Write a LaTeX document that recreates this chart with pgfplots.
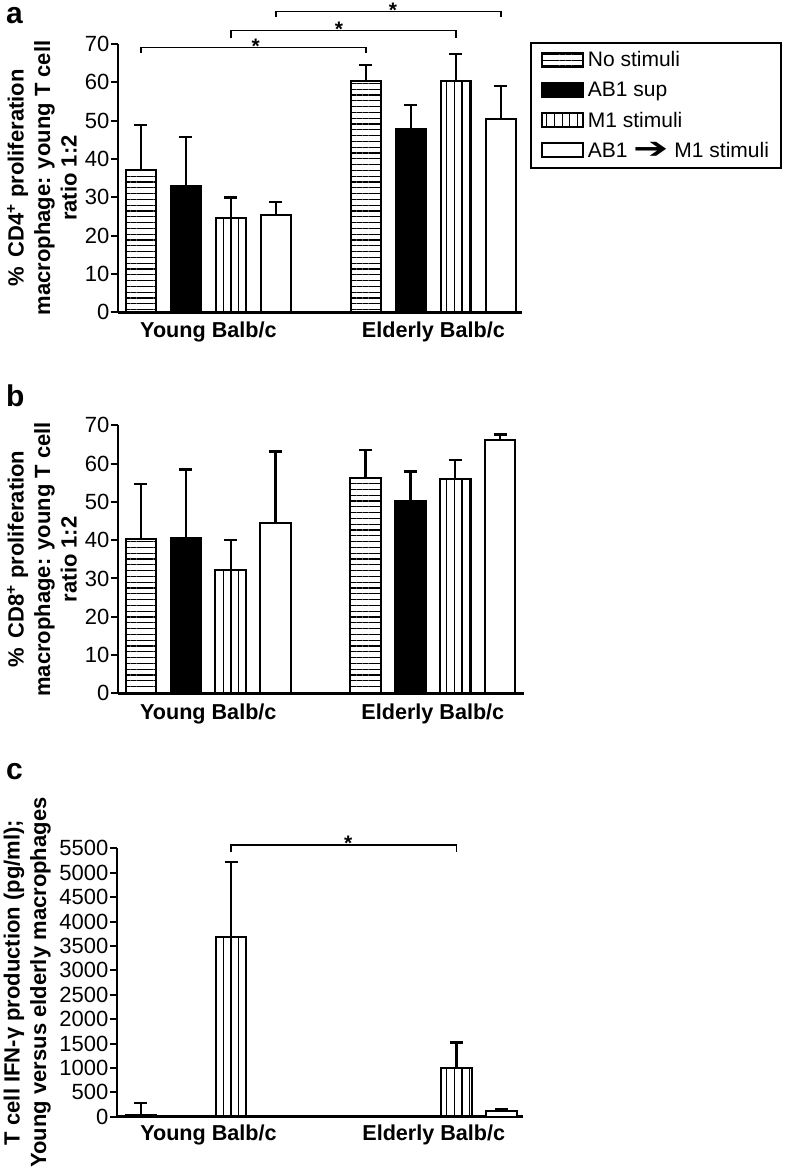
\documentclass[border=0pt]{standalone}
\usepackage{fontspec}
\setmainfont{Liberation Sans}
\newfontfamily\dejavu{DejaVu Sans}
\usepackage{graphicx}
\usepackage{pgfplots}
\pgfplotsset{compat=1.18}
\usetikzlibrary{patterns.meta}
\newcommand\ls{\rule[-5pt]{0pt}{20pt}}
\tikzset{
  hpat/.style={pattern={Lines[angle=0,distance=5.8pt,line width=1.2pt]},pattern color=black},
  vpat/.style={pattern={Lines[angle=90,distance=7.7pt,line width=1.2pt]},pattern color=black},
}
\pgfplotsset{
  nbars/.style={ybar, bar shift=0pt, bar width=0.68, draw=black, line width=2pt},
  bars/.style={nbars, error bars/y dir=plus, error bars/y explicit},
  panel/.style={
    scale only axis, anchor=south west, clip=false,
    axis x line*=bottom, axis y line*=left,
    axis line style={line width=2.5pt,-},
    xmin=-0.51, xmax=8.47, ymin=0,
    xtick={1.5,6.5}, xticklabels={Young Balb/c,Elderly Balb/c},
    xtick style={draw=none},
    tick align=outside, major tick length=7pt,
    ytick style={line width=2pt,black},
    xticklabel style={font=\fontsize{21.6}{24}\selectfont\bfseries, inner sep=0pt, anchor=north},
    yticklabel style={font=\fontsize{22}{26}\selectfont, inner sep=1.5pt},
    /pgf/number format/assume math mode=true,
    /pgf/number format/1000 sep={},
    ylabel style={anchor=south, inner sep=0pt, align=center, font=\fontsize{22}{26.5}\selectfont\bfseries},
    error bars/error bar style={line width=2.4pt, black, solid},
    error bars/error mark options={rotate=90, line width=2.4pt, mark size=6.5pt, black, solid},
  },
}
\begin{document}
\begin{tikzpicture}
\useasboundingbox (0pt,0pt) rectangle (787pt,1168pt);
% ---------------- panel a
\begin{axis}[panel, at={(118pt,855.7pt)}, width=404pt, height=268.5pt,
  ymax=70, ytick={0,10,...,70},
  xticklabel style={yshift=-2pt},
  ylabel style={at={(axis description cs:-0.1015,0.5)}},
  ylabel={\% \,CD4\textsuperscript{+} proliferation\\macrophage: young T cell\\ratio 1:2},
  legend image code/.code={\draw[#1] (0pt,-7pt) rectangle (41pt,7pt);},
  legend cell align=left,
  legend style={at={(axis description cs:1.0198,1.0075)}, anchor=north west, draw=black, line width=1.8pt,
    font=\fontsize{21}{25}\selectfont, inner xsep=10pt, inner ysep=7pt, row sep=9.5pt,
    /tikz/every odd column/.append style={column sep=2pt}},
]
\addlegendimage{draw=black, line width=2pt, hpat}
\addlegendentry{\ls No stimuli}
\addlegendimage{draw=black, line width=2pt, fill=black}
\addlegendentry{\ls AB1 sup}
\addlegendimage{draw=black, line width=2pt, vpat}
\addlegendentry{\ls M1 stimuli}
\addlegendimage{draw=black, line width=2pt, fill=white}
\addlegendentry{\ls AB1 \raisebox{-1.5pt}{\dejavu\scalebox{2.0}[1.4]{➔}} M1 stimuli}
\addplot[bars, hpat, forget plot] coordinates {(0,37.2) +- (0,11.6) (5,60.2) +- (0,4.3)};
\addplot[bars, fill=black, forget plot] coordinates {(1,32.9) +- (0,12.8) (6,47.9) +- (0,6.2)};
\addplot[bars, vpat, forget plot] coordinates {(2,24.6) +- (0,5.3) (7,60.3) +- (0,7.1)};
\addplot[bars, fill=white, forget plot] coordinates {(3,25.3) +- (0,3.5) (8,50.5) +- (0,8.5)};
\draw[line width=1.5pt] (axis cs:0,67.5) -- (axis cs:0,69.0) -- (axis cs:5,69.0) -- (axis cs:5,67.5);
\draw[line width=1.5pt] (axis cs:2,71.5) -- (axis cs:2,73.5) -- (axis cs:7,73.5) -- (axis cs:7,71.5);
\draw[line width=1.5pt] (axis cs:3,76.9) -- (axis cs:3,78.4) -- (axis cs:8,78.4) -- (axis cs:8,76.9);
\node[anchor=base, inner sep=0pt, yshift=-6pt, font=\fontsize{21}{21}\selectfont\bfseries] at (axis cs:2.55,69.0) {*};
\node[anchor=base, inner sep=0pt, yshift=-6pt, font=\fontsize{21}{21}\selectfont\bfseries] at (axis cs:4.4,73.5) {*};
\node[anchor=base, inner sep=0pt, yshift=-6pt, font=\fontsize{21}{21}\selectfont\bfseries] at (axis cs:5.6,78.4) {*};
\end{axis}
% ---------------- panel b
\begin{axis}[panel, at={(118pt,474.7pt)}, width=406pt, height=268pt,
  xmax=8.53,
  ymax=70, ytick={0,10,...,70},
  xticklabel style={yshift=-3pt},
  ylabel style={at={(axis description cs:-0.101,0.5)}},
  ylabel={\% \,CD8\textsuperscript{+} proliferation\\macrophage: young T cell\\ratio 1:2},
]
\addplot[bars, hpat] coordinates {(0,40.2) +- (0,14.5) (5,56.3) +- (0,7.2)};
\addplot[bars, fill=black] coordinates {(1,40.6) +- (0,17.9) (6,50.2) +- (0,7.7)};
\addplot[bars, vpat] coordinates {(2,32.2) +- (0,7.8) (7,55.9) +- (0,5.0)};
\addplot[bars, fill=white] coordinates {(3,44.4) +- (0,18.8) (8,66.2) +- (0,1.4)};
\end{axis}
% ---------------- panel c
\begin{axis}[panel, at={(117pt,51.3pt)}, width=406pt, height=268.4pt,
  xmin=-0.53, xmax=8.48,
  ymax=5500, ytick={0,500,...,5500},
  xticklabel style={yshift=-1pt},
  ylabel style={at={(axis description cs:-0.1626,0.5)}},
  ylabel={T cell IFN-γ production (pg/ml);\\Young versus elderly macrophages},
]
\addplot[bars, hpat] coordinates {(0,30) +- (0,245)};
\addplot[nbars, hpat] coordinates {(5,15)};
\addplot[nbars, fill=black] coordinates {(1,0) (6,0)};
\addplot[bars, vpat] coordinates {(2,3689) +- (0,1536) (7,991) +- (0,533)};
\addplot[nbars, fill=white] coordinates {(3,15)};
\addplot[bars, fill=white] coordinates {(8,117) +- (0,41)};
\draw[line width=1.5pt] (axis cs:2,5424) -- (axis cs:2,5568) -- (axis cs:7,5568) -- (axis cs:7,5424);
\node[anchor=base, inner sep=0pt, yshift=-6pt, font=\fontsize{21}{21}\selectfont\bfseries] at (axis cs:4.6,5568) {*};
\end{axis}
% panel letters
\node[anchor=base west, inner sep=0pt, font=\fontsize{30}{30}\selectfont\bfseries] at (6pt,1144pt) {a};
\node[anchor=base west, inner sep=0pt, font=\fontsize{30}{30}\selectfont\bfseries] at (6pt,761pt) {b};
\node[anchor=base west, inner sep=0pt, font=\fontsize{30}{30}\selectfont\bfseries] at (6pt,388pt) {c};
\end{tikzpicture}
\end{document}
